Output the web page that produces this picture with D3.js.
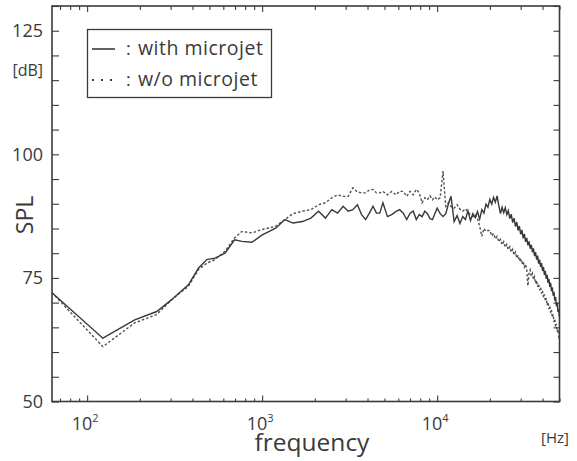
<!DOCTYPE html>
<html>
<head>
<meta charset="utf-8">
<script src="https://cdn.jsdelivr.net/npm/d3@7"></script>
<style>
  body { margin: 0; background: #fff; }
  svg { display: block; font-family: "Open Sans", "Noto Sans", sans-serif; }
</style>
</head>
<body>
<script>
// frequency bins (Hz), shared by both spectra
const freq = [63, 123, 187, 250, 304, 379, 433, 483, 538, 614, 696, 766, 874,
  1000, 1100, 1200, 1350, 1500, 1700, 1900, 2100, 2300, 2500, 2700, 2900, 3100, 3300, 3500, 3700, 3900,
  4100, 4300, 4500, 4700, 4900, 5200, 5500, 5800, 6100, 6400, 6700, 7000, 7300, 7600, 7900, 8200, 8500,
  8800, 9100, 9400, 9700, 10000, 10400, 10800, 11200, 11600, 12000, 12500, 13000, 13500, 14000, 14500,
  15000, 15500, 16000, 16500, 17000, 17500, 18000, 18500, 19000, 19500,
  20000, 20500, 21000, 21500, 22000, 22500, 23000, 23500, 24000, 24500, 25000, 25500, 26000, 26500,
  27000, 27500, 28000, 28500, 29000, 29500, 30000, 30500, 31000, 31500, 32000, 32500, 33000, 33500,
  34000, 34500, 35000, 35500, 36000, 36500, 37000, 37500, 38000, 38500, 39000, 39500, 40000, 40500,
  41000, 41500, 42000, 42500, 43000, 43500, 44000, 44500, 45000, 45500, 46000, 46500, 47000, 47500,
  48000, 48500, 49000, 49500, 50000];

// SPL [dB] with microjet (solid)
const withJet = [72, 62.8, 66.5, 68.2, 70.6, 73.6, 77.0, 78.7, 79.0, 80.0, 82.7, 82.4, 82.2,
  83.7, 84.4, 85.1, 86.8, 86.1, 86.4, 87.1, 88.5, 87.1, 88.8, 88.1, 89.5, 88.5, 88.8, 89.8, 87.8, 86.8,
  88.1, 89.5, 88.1, 88.1, 90.2, 87.4, 87.8, 88.4, 88.8, 88.1, 86.8, 88.1, 88.5, 86.8, 87.8, 87.4, 88.5,
  88.0, 87.0, 86.8, 88.0, 89.1, 88.0, 87.4, 88.0, 90.0, 91.5, 86.4, 87.6, 86.0, 87.4, 86.8,
  88.6, 86.6, 88.0, 87.2, 88.4, 86.9, 88.8, 88.1, 89.9, 89.3,
  90.9, 89.9, 91.3, 90.3, 91.6, 89.6, 88.0, 89.3, 88.2, 89.2, 87.8, 88.6, 87.0, 87.9,
  86.2, 87.1, 85.4, 86.3, 84.6, 85.5, 83.8, 84.7, 83.0, 83.9, 82.3, 83.1, 81.6, 82.4,
  80.9, 81.7, 80.2, 81.0, 79.4, 80.2, 78.7, 79.5, 77.9, 78.7, 77.2, 78.0, 76.4, 77.2,
  75.6, 76.4, 74.8, 75.6, 74.0, 74.8, 73.2, 74.0, 72.3, 73.1, 71.4, 72.2, 70.4, 71.1,
  69.3, 70.0, 68.1, 68.6, 67.0];

// SPL [dB] without microjet (dotted)
const withoutJet = [72, 61.1, 65.9, 67.6, 70.6, 73.3, 76.7, 78.0, 78.7, 80.4, 83.1, 84.4, 84.1,
  84.8, 85.1, 85.5, 86.8, 88.0, 88.5, 88.8, 89.8, 90.2, 91.2, 91.8, 91.5, 91.5, 93.2, 92.4, 92.2, 92.2,
  92.8, 92.9, 92.2, 92.2, 92.5, 91.8, 92.5, 91.8, 92.5, 92.5, 91.5, 92.5, 91.8, 92.9, 92.2, 90.2, 91.2,
  90.8, 91.6, 90.8, 91.4, 90.8, 91.2, 96.6, 89.5, 90.2, 89.4, 89.1, 89.8, 88.9, 88.5, 89.0,
  88.3, 87.8, 87.4, 87.8, 87.0, 85.4, 83.4, 85.0, 84.4, 84.6,
  84.6, 83.5, 84.0, 82.9, 83.4, 82.3, 82.8, 81.7, 82.3, 81.2, 81.8, 80.7, 81.3, 80.2,
  80.8, 79.6, 80.2, 79.0, 79.6, 78.4, 79.0, 77.8, 78.4, 77.2, 77.8, 76.6, 73.4, 76.0,
  76.6, 75.3, 75.9, 74.6, 75.2, 73.9, 74.5, 73.2, 73.8, 72.5, 73.1, 71.8, 72.4, 71.1,
  71.7, 70.3, 70.9, 69.5, 70.1, 68.7, 69.3, 67.9, 68.5, 67.0, 67.6, 66.1, 66.7, 65.1,
  65.7, 64.1, 64.6, 63.0, 63.2];

const yTicks = [50, 75, 100, 125];
const decades = [2, 3, 4];

const width = 577, height = 461;
const margin = {top: 6, right: 17.5, bottom: 59.5, left: 52};

const svg = d3.select('body').append('svg').attr('width', width).attr('height', height);

const x = d3.scaleLog().domain([63, 50000]).range([margin.left, width - margin.right]);
const y = d3.scaleLinear().domain([50, 130]).range([height - margin.bottom, margin.top]);

const ink = '#3a3a3a';

// log ticks: minor and decades
const minorX = [];
[10, 100, 1000, 10000].forEach(b => { for (let k = 2; k <= 9; k++) { const v = b * k; if (v >= 63 && v <= 50000) minorX.push(v); } });
const majorX = decades.map(p => Math.pow(10, p));
const yMinor = d3.range(50, 131, 5);

function styleAxis(g) {
  g.select('.domain').remove();
  g.selectAll('.tick line').attr('stroke', ink).attr('stroke-width', 1.1);
}

// bottom + top ticks (inward)
svg.append('g').attr('transform', `translate(0,${y(50)})`)
  .call(d3.axisBottom(x).tickValues(minorX).tickSizeInner(-3).tickFormat('')).call(styleAxis);
svg.append('g').attr('transform', `translate(0,${y(50)})`)
  .call(d3.axisBottom(x).tickValues(majorX).tickSizeInner(-6).tickFormat('')).call(styleAxis);
svg.append('g').attr('transform', `translate(0,${y(130)})`)
  .call(d3.axisTop(x).tickValues(minorX).tickSizeInner(-4).tickFormat('')).call(styleAxis);
svg.append('g').attr('transform', `translate(0,${y(130)})`)
  .call(d3.axisTop(x).tickValues(majorX).tickSizeInner(-6).tickFormat('')).call(styleAxis);

// left + right ticks
svg.append('g').attr('transform', `translate(${x(63)},0)`)
  .call(d3.axisLeft(y).tickValues(yMinor).tickSizeInner(-7).tickPadding(9)
    .tickFormat(d => yTicks.includes(d) ? d : ''))
  .call(styleAxis)
  .call(g => g.selectAll('.tick text').attr('font-size', 18).attr('fill', ink)
    .attr('font-family', '"Open Sans", sans-serif'));
svg.append('g').attr('transform', `translate(${x(50000)},0)`)
  .call(d3.axisRight(y).tickValues(yMinor).tickSizeInner(-6).tickFormat(''))
  .call(styleAxis);

// frame
svg.append('rect')
  .attr('x', x(63)).attr('y', y(130))
  .attr('width', x(50000) - x(63)).attr('height', y(50) - y(130))
  .attr('fill', 'none').attr('stroke', ink).attr('stroke-width', 1.6);

// decade labels 10^n
const xl = svg.append('g').attr('fill', ink).attr('font-size', 18);
decades.forEach(p => {
  const t = xl.append('text').attr('x', x(Math.pow(10, p)) - 2).attr('y', 430).attr('text-anchor', 'middle');
  t.append('tspan').text('10');
  t.append('tspan').attr('dy', -8).attr('font-size', 11).text(p);
});

// spectra
const line = d3.line().x((d, i) => x(freq[i])).y(d => y(d));
svg.append('path').datum(withoutJet)
  .attr('d', line).attr('fill', 'none')
  .attr('stroke', '#505050').attr('stroke-width', 1.4).attr('stroke-dasharray', '2.5,2');
svg.append('path').datum(withJet)
  .attr('d', line).attr('fill', 'none')
  .attr('stroke', '#383838').attr('stroke-width', 1.4);

// legend
const lg = svg.append('g');
lg.append('rect').attr('x', 87.5).attr('y', 29.5).attr('width', 184).attr('height', 68)
  .attr('fill', '#fff').attr('stroke', ink).attr('stroke-width', 1.3);
lg.append('line').attr('x1', 92).attr('x2', 115).attr('y1', 49).attr('y2', 49)
  .attr('stroke', ink).attr('stroke-width', 1.6);
lg.append('line').attr('x1', 92).attr('x2', 116).attr('y1', 80).attr('y2', 80)
  .attr('stroke', ink).attr('stroke-width', 2).attr('stroke-dasharray', '2,7');
[['with microjet', 55], ['w/o microjet', 86]].forEach(([s, yy]) => {
  lg.append('text').attr('x', 126).attr('y', yy).attr('font-size', 18).attr('fill', ink).text(':');
  lg.append('text').attr('x', 138).attr('y', yy).attr('font-size', 19.5)
    .attr('letter-spacing', 0.5).attr('fill', ink).text(s);
});

// axis titles
svg.append('text').attr('x', 43).attr('y', 76).attr('text-anchor', 'end')
  .attr('font-size', 16).attr('fill', ink).text('[dB]');
svg.append('text').attr('transform', 'translate(33,215) rotate(-90)').attr('text-anchor', 'middle')
  .attr('font-size', 23).attr('fill', ink).text('SPL');
svg.append('text').attr('x', 312).attr('y', 451).attr('text-anchor', 'middle')
  .attr('font-size', 24.5).attr('fill', ink).text('frequency');
svg.append('text').attr('x', 555).attr('y', 443).attr('text-anchor', 'middle')
  .attr('font-size', 15).attr('fill', ink).text('[Hz]');
</script>
</body>
</html>
